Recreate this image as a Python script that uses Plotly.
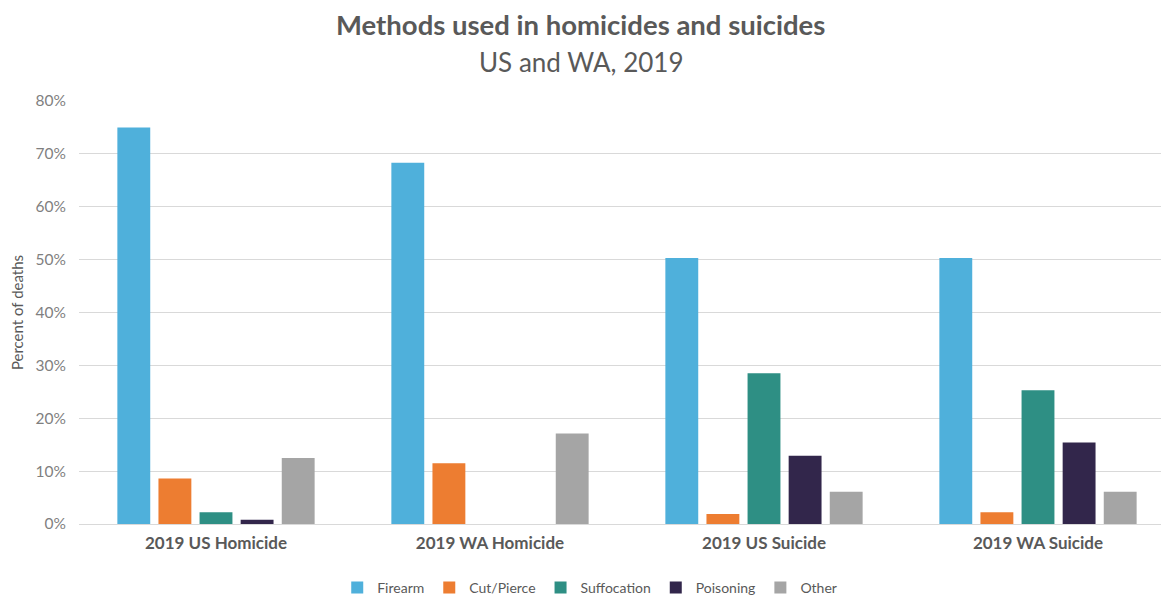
import plotly.graph_objects as go

categories = ["2019 US Homicide", "2019 WA Homicide", "2019 US Suicide", "2019 WA Suicide"]
methods = ["Firearm", "Cut/Pierce", "Suffocation", "Poisoning", "Other"]
firearm = [75.0, 68.3, 50.3, 50.3]
cut_pierce = [8.6, 11.5, 1.9, 2.2]
suffocation = [2.2, None, 28.5, 25.3]
poisoning = [0.8, None, 12.9, 15.4]
other = [12.5, 17.1, 6.1, 6.1]
y_ticks = [0, 10, 20, 30, 40, 50, 60, 70, 80]

series = [firearm, cut_pierce, suffocation, poisoning, other]
colors = ["#4FB0DB", "#ED7D31", "#2E8F84", "#32264B", "#A5A5A5"]

FONT = "Lato, 'Open Sans', sans-serif"

# page is shown with an ~8px offset; margins are in figure coordinates
T, B, L, R = 93, 80, 71, 2
PH = 596 - T - B

fig = go.Figure()
for name, vals, col in zip(methods, series, colors):
    fig.add_trace(go.Bar(
        x=categories, y=vals, name=name,
        marker=dict(color=col, line=dict(width=0)),
    ))

fig.update_layout(
    width=1169, height=596,
    barmode="group", bargap=0.25, bargroupgap=0.2,
    plot_bgcolor="white", paper_bgcolor="white",
    margin=dict(l=L, r=R, t=T, b=B, autoexpand=False),
    font=dict(family=FONT, color="#595959", size=14),
    legend=dict(
        orientation="h", x=0.466, xanchor="center", y=-64 / PH, yanchor="middle",
        font=dict(size=14, color="#595959"), itemwidth=30,
        traceorder="normal",
    ),
    xaxis=dict(
        showgrid=False, showline=True, linecolor="#D9D9D9",
        tickfont=dict(size=17, color="#595959"),
        ticklabelstandoff=4,
    ),
    yaxis=dict(
        range=[0, 80], tickvals=y_ticks,
        ticktext=[f"{v}%" for v in y_ticks],
        showgrid=True, gridcolor="#D9D9D9", gridwidth=1,
        zeroline=False, showline=False,
        tickfont=dict(size=15.5, color="#7F7F7F"),
        title=dict(text="Percent of deaths", font=dict(size=15, color="#595959"), standoff=8),
        ticks="", ticklabelstandoff=12,
    ),
    annotations=[
        dict(text="<b>Methods used in homicides and suicides</b>", xref="paper", yref="paper",
             x=0.458, y=1 + (T - 16) / PH,
             xanchor="center", yanchor="middle", showarrow=False,
             font=dict(size=27.5, color="#595959", family=FONT)),
        dict(text="US and WA, 2019", xref="paper", yref="paper",
             x=0.458, y=1 + (T - 54) / PH,
             xanchor="center", yanchor="middle", showarrow=False,
             font=dict(size=26, color="#595959", family=FONT)),
    ],
)
fig.update_xaxes(tickprefix="<b>", ticksuffix="</b>")

fig.write_html("out.html")
